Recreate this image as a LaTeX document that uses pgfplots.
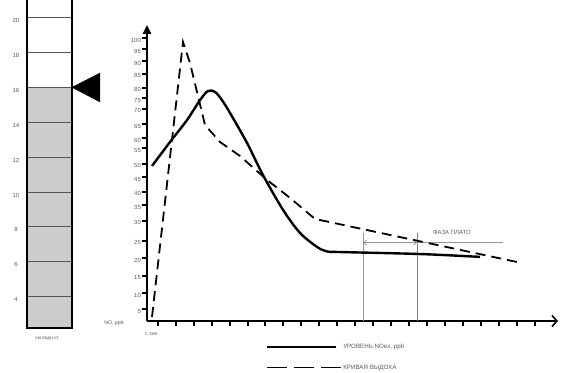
\documentclass[border=0pt]{standalone}
\usepackage{fontspec}
\setmainfont{Liberation Sans}
\usepackage{pgfplots}
\pgfplotsset{compat=1.18}
\usetikzlibrary{arrows.meta}
\definecolor{txt}{RGB}{90,90,90}
\definecolor{fillg}{RGB}{204,204,204}
\definecolor{gridg}{RGB}{85,85,85}
\definecolor{ann}{RGB}{150,150,150}
\begin{document}
\begin{tikzpicture}
\useasboundingbox (0,0) rectangle (561bp,373bp);
% ---------------- gauge (cm water column) ----------------
\begin{axis}[
  at={(27bp,45bp)}, anchor=south west,
  x=45bp, y=17.44bp,
  xmin=0, xmax=1, ymin=2.2, ymax=21.6,
  axis on top, clip=false,
  axis line style={line width=2.2bp, black},
  xtick=\empty,
  ytick={4,6,8,10,12,14,16,18,20},
  major tick length=0pt,
  ymajorgrids, grid style={gridg, line width=0.9bp},
  yticklabel style={font=\fontsize{6bp}{6bp}\selectfont, text=txt, anchor=center, xshift=-11bp, yshift=-3bp},
  /pgf/number format/assume math mode=true,
]
\addplot[fill=fillg, draw=none] coordinates {(0,2.2) (1,2.2) (1,16) (0,16)} -- cycle;
\addplot[fill=black, draw=black] coordinates {(1,16) (1.622,16.82) (1.622,15.16)} -- cycle;
\node[font=\fontsize{4.8bp}{5bp}\selectfont, text=txt] at (axis cs:0.456,1.57) {см водн.ст.};
\end{axis}
% ---------------- main chart ----------------
\begin{axis}[
  at={(147bp,52bp)}, anchor=south west,
  x=17.95bp, y=2.85bp,
  xmin=0, xmax=22.9, ymin=1.4, ymax=105.3,
  axis lines=left,
  axis line style={line width=2.4bp, black},
  x axis line style={-{Straight Barb[length=5bp,width=11bp,line width=1.6bp]}},
  y axis line style={-{Triangle[length=9bp,width=8bp]}},
  tick align=outside,
  major tick length=5bp,
  xtick={0.6,1.6,2.6,3.6,4.6,5.6,6.6,7.6,8.6,9.6,10.6,11.6,12.6,13.6,14.6,15.6,16.6,17.6,18.6,19.6,20.6,21.6},
  xticklabels={},
  xtick style={line width=2bp, black},
  ytick={5.6,11.2,17.2,23.5,29.5,36.5,42.1,46.7,51.9,56.5,62.1,65.6,70.5,75.8,79.6,83.2,88.1,92.6,96.8,100.7},
  yticklabels={5,10,15,20,25,30,35,40,45,50,55,60,65,70,75,80,85,90,95,100},
  ytick style={line width=1.5bp, black},
  yticklabel style={font=\fontsize{5.9bp}{6bp}\selectfont, text=txt, yshift=-2bp, inner sep=1bp},
  clip=false,
  legend style={at={(axis description cs:0.2895,-0.0743)}, anchor=north west, draw=none, fill=none,
    font=\fontsize{6.2bp}{6.5bp}\selectfont, text=txt, row sep=12.5bp, inner sep=0pt, nodes={inner sep=1bp}},
  legend cell align=left,
]
\addlegendimage{legend image code/.code={\draw[line width=2.4bp] (0bp,0bp) -- (69bp,0bp);}}
\addlegendentry{УРОВЕНЬ NOex, ppb}
\addlegendimage{legend image code/.code={\draw[line width=1.8bp, dash pattern=on 20bp off 7bp] (0bp,0bp) -- (74bp,0bp);}}
\addlegendentry{КРИВАЯ ВЫДОХА}
% plateau annotation
\addplot[ann, line width=0.8bp, forget plot] coordinates {(12.033,1.4) (12.033,32.3)};
\addplot[gray, line width=0.8bp, forget plot] coordinates {(15.042,1.4) (15.042,32.3)};
\addplot[ann, line width=0.8bp, forget plot, {Straight Barb[length=3bp,width=5bp]}-{Straight Barb[length=3bp,width=5bp]}] coordinates {(12.033,28.9) (15.042,28.9)};
\addplot[ann, line width=0.8bp, forget plot] coordinates {(15.042,28.9) (19.833,28.9)};
\node[font=\fontsize{6bp}{6.5bp}\selectfont, text=txt] at (axis cs:16.99,32.6) {ФАЗА ПЛАТО};
% NO level curve
\addplot[black, line width=2.4bp, smooth, tension=0.5, forget plot] coordinates {
(0.279,55.8) (1.281,64.2) (2.228,71.9) (2.953,78.9) (3.398,82.1) (3.788,81.8) (4.178,78.9)
(4.624,74.4) (5.571,63.9) (6.462,52.6) (7.577,40.4) (8.524,32.3) (9.471,27.4) (10.028,25.8)
(10.75,25.6) (15.209,24.9) (18.552,23.9)};
% exhalation curve
\addplot[black, line width=1.8bp, dash pattern=on 10bp off 6bp, forget plot] coordinates {
(0.279,2.8) (2.006,99.3) (2.396,91.9) (3.231,70.2) (3.621,67.4) (4.067,64.2) (5.181,59.3)
(6.685,50.9) (7.967,44.6) (9.359,37.2) (20.613,22.1)};
\node[font=\fontsize{5.2bp}{6bp}\selectfont, text=txt] at (axis cs:-1.84,0.7) {NO, ppb};
\node[font=\fontsize{5.2bp}{6bp}\selectfont, text=txt] at (axis cs:0.28,-3.2) {t, сек.};
\end{axis}
\end{tikzpicture}
\end{document}
